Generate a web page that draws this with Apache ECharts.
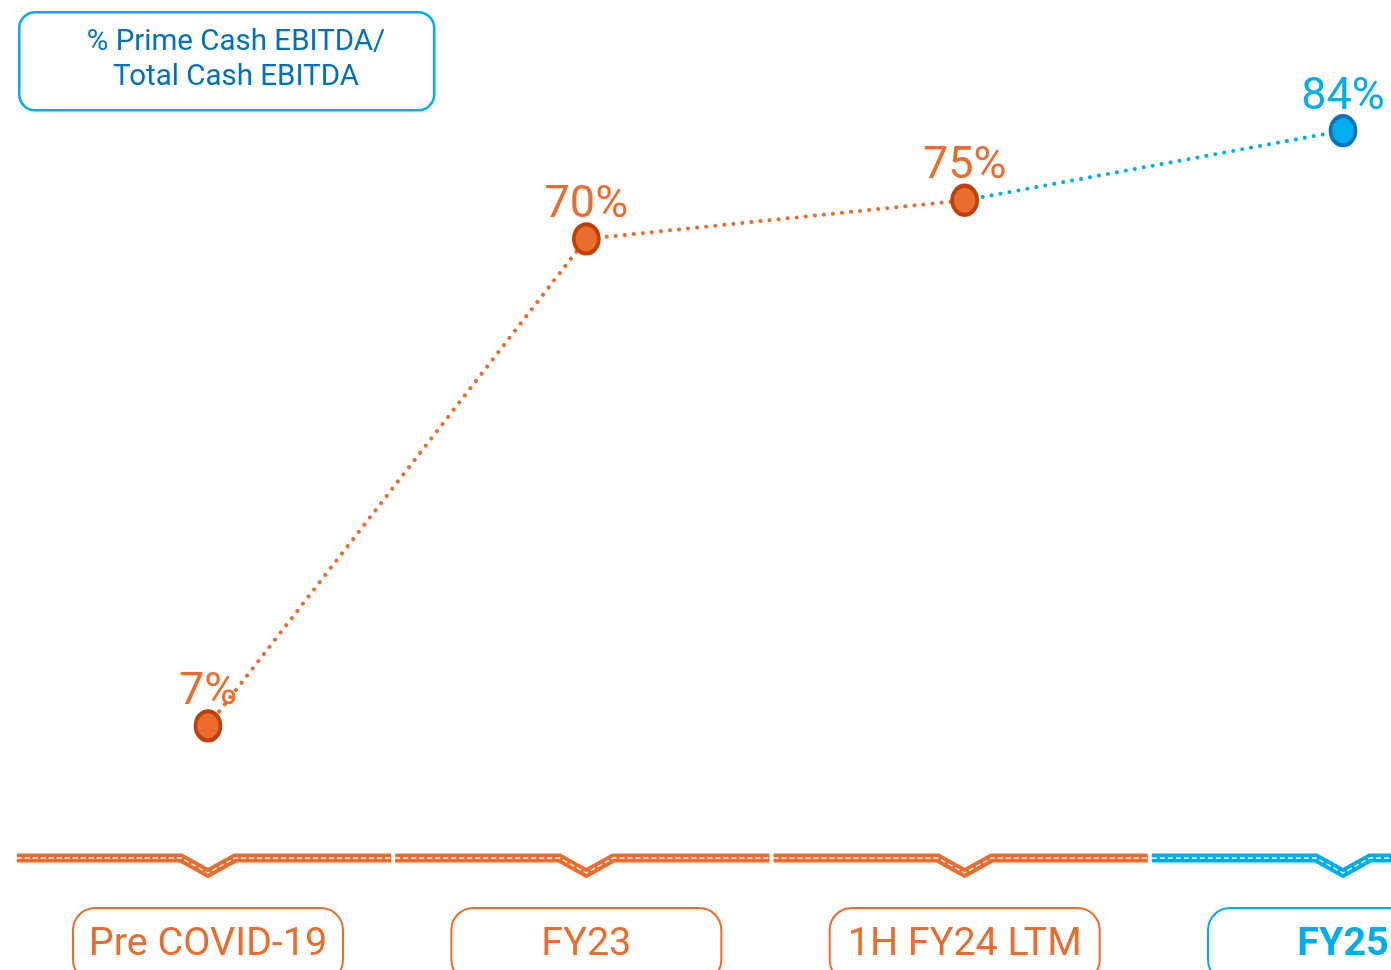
<!DOCTYPE html>
<html>
<head>
<meta charset="utf-8">
<script src="https://cdn.jsdelivr.net/npm/echarts@6/dist/echarts.min.js"></script>
<style>
html,body{margin:0;padding:0;background:#fff;}
#chart{width:1391px;height:970px;}
</style>
</head>
<body>
<div id="chart"></div>
<script>
// ---- data ----
const categories = ['Pre COVID-19', 'FY23', '1H FY24 LTM', 'FY25'];
const values = [7, 70, 75, 84];
const seriesName = '% Prime Cash EBITDA/\nTotal Cash EBITDA';
const forecastIndex = 3; // last category highlighted in blue

// ---- styles ----
const ORANGE = '#EB6C2D';
const ORANGE_DARK = '#C0400B';
const BLUE = '#00AEEF';
const BLUE_DARK = '#0A72BC';
const TEXT_BLUE = '#0072BC';
const FONT = 'Roboto, "Open Sans", sans-serif';

const orangeData = values.map((v, i) => (i < forecastIndex ? v : null));
const blueData = values.map((v, i) => (i >= forecastIndex - 1 ? v : null));

const chart = echarts.init(document.getElementById('chart'), null, {renderer: 'canvas'});

const option = {
  backgroundColor: '#ffffff',
  animation: false,
  grid: {left: 208, right: 48, top: 7, bottom: 190, containLabel: false, outerBoundsMode: 'none'},
  xAxis: {
    type: 'category',
    data: categories,
    boundaryGap: false,
    axisLine: {show: false},
    axisTick: {show: false},
    splitLine: {show: false},
    axisLabel: {
      margin: 128,
      interval: 0,
      hideOverlap: false,
      formatter: (v, i) => (i === forecastIndex ? '{b|' + v + '}' : '{o|' + v + '}'),
      rich: {
        o: {
          fontFamily: FONT, fontSize: 39.5, color: ORANGE,
          width: 270, height: 74, align: 'center',
          borderColor: ORANGE, borderWidth: 2, borderRadius: 22
        },
        b: {
          fontFamily: FONT, fontSize: 39.5, fontWeight: 'bold', color: BLUE,
          width: 270, height: 74, align: 'center',
          borderColor: BLUE, borderWidth: 2, borderRadius: 22
        }
      }
    }
  },
  yAxis: {
    type: 'value',
    min: 0,
    max: 100,
    show: false,
    splitLine: {show: false}
  },
  series: [
    {
      name: seriesName,
      type: 'line',
      data: blueData,
      z: 2,
      symbol: (v, p) => (p.dataIndex === forecastIndex ? 'circle' : 'none'),
      symbolSize: [25, 29],
      lineStyle: {color: BLUE, width: 4, type: [0.1, 9], cap: 'round'},
      itemStyle: {color: BLUE, borderColor: BLUE_DARK, borderWidth: 4},
      label: {
        show: true, position: 'top', distance: -6,
        fontFamily: FONT, fontSize: 45, color: BLUE,
        formatter: p => (p.dataIndex === forecastIndex ? p.value + '%' : '')
      }
    },
    {
      name: seriesName,
      type: 'line',
      data: orangeData,
      z: 3,
      symbol: 'circle',
      symbolSize: [25, 29],
      lineStyle: {color: ORANGE, width: 4, type: [0.1, 9], cap: 'round'},
      itemStyle: {color: ORANGE, borderColor: ORANGE_DARK, borderWidth: 4},
      label: {
        show: true, position: 'top', distance: -6,
        fontFamily: FONT, fontSize: 45, color: ORANGE,
        formatter: p => p.value + '%'
      }
    }
  ]
};

chart.setOption(option);

// ---- decorative timeline band with notches, derived from the axis scale ----
function buildGraphics() {
  const els = [];
  const p0 = chart.convertToPixel({gridIndex: 0}, [0, 0]);
  const p1 = chart.convertToPixel({gridIndex: 0}, [1, 0]);
  const step = p1[0] - p0[0];
  const half = step / 2;
  const yb = p0[1] + 78;
  categories.forEach((c, i) => {
    const x = chart.convertToPixel({gridIndex: 0}, [i, 0])[0];
    const col = i === forecastIndex ? BLUE : ORANGE;
    const pts = [
      [x - half - 2, yb], [x - 27, yb], [x, yb + 15], [x + 27, yb], [x + half - 6, yb]
    ];
    els.push({
      type: 'polyline', shape: {points: pts}, z: 10,
      style: {stroke: col, lineWidth: 9, fill: null, lineJoin: 'miter'}
    });
    els.push({
      type: 'polyline', shape: {points: pts}, z: 11,
      style: {stroke: '#ffffff', lineWidth: 1.3, fill: null, lineDash: [5, 3]}
    });
  });
  // legend box
  els.push({
    type: 'rect', left: 18, top: 11, z: 10,
    shape: {width: 415, height: 98, r: 16},
    style: {fill: '#ffffff', stroke: BLUE, lineWidth: 2.5}
  });
  els.push({
    type: 'text', x: 236, y: 60, z: 11,
    style: {
      text: seriesName, fontFamily: FONT, fontSize: 29.5, fill: TEXT_BLUE,
      align: 'center', verticalAlign: 'middle', lineHeight: 35
    }
  });
  chart.setOption({graphic: {elements: els}});
}
buildGraphics();
</script>
</body>
</html>
